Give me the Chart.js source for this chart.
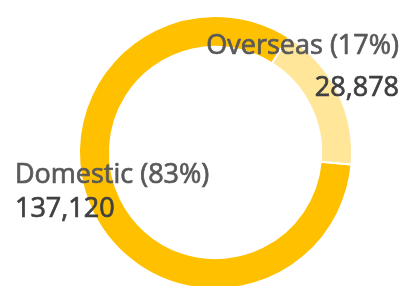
<!DOCTYPE html>
<html>
<head>
<meta charset="utf-8">
<script src="https://cdn.jsdelivr.net/npm/chart.js@4.4.1/dist/chart.umd.min.js"></script>
<style>
  html, body { margin: 0; padding: 0; background: #fff; overflow: hidden; }
  #wrap { width: 411px; height: 286px; overflow: hidden; }
</style>
</head>
<body>
<div id="wrap">
  <canvas id="myChart" width="411" height="305"></canvas>
</div>
<script>
// 데이터
var categories = ['Domestic', 'Overseas'];
var values = [137120, 28878];
var colors = ['#FFC000', '#FFE699'];

// 라벨 위치 (각 조각 중심에서의 거리)
var labelOpts = [
  { align: 'left', dx: -92, dy1: -23, dy2: 11 },
  { align: 'right', dx: 75, dy1: -45, dy2: -3 }
];

var total = values.reduce(function(a, b) { return a + b; }, 0);

function drawText(ctx, text, x, y, color) {
  ctx.fillStyle = color;
  ctx.strokeStyle = color;
  ctx.lineWidth = 0.7;
  ctx.fillText(text, x, y);
  ctx.strokeText(text, x, y); // 글자를 조금 두껍게
}

var labelPlugin = {
  id: 'sliceLabels',
  afterDatasetsDraw: function(chart) {
    var ctx = chart.ctx;
    var meta = chart.getDatasetMeta(0);
    meta.data.forEach(function(arc, i) {
      var p = arc.tooltipPosition();
      var o = labelOpts[i];
      var pct = Math.round(values[i] / total * 100);
      ctx.save();
      ctx.textAlign = o.align;
      ctx.textBaseline = 'alphabetic';
      ctx.font = '27px "Open Sans"';
      drawText(ctx, categories[i] + ' (' + pct + '%)', p.x + o.dx, p.y + o.dy1, '#595959');
      drawText(ctx, values[i].toLocaleString('en-US'), p.x + o.dx, p.y + o.dy2, '#404040');
      ctx.restore();
    });
  }
};

var ctx = document.getElementById('myChart').getContext('2d');
var chart = new Chart(ctx, {
  type: 'doughnut',
  data: {
    labels: categories,
    datasets: [{
      data: values,
      backgroundColor: colors,
      borderColor: '#ffffff',
      borderWidth: 2
    }]
  },
  options: {
    responsive: false,
    animation: false,
    rotation: 95,
    cutout: '77.4%',
    layout: { padding: { left: 20, right: 0, top: 15, bottom: 15 } },
    plugins: {
      legend: { display: false },
      tooltip: { enabled: false }
    }
  },
  plugins: [labelPlugin]
});
</script>
</body>
</html>
